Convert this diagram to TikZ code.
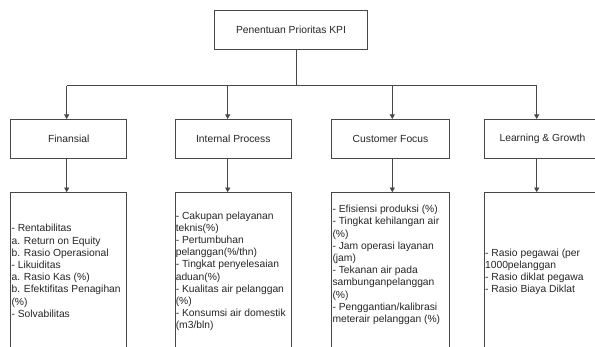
\documentclass[tikz,border=0pt]{standalone}
\usepackage{fontspec}
\setmainfont{Liberation Sans}
\usetikzlibrary{arrows.meta}
\begin{document}
\begin{tikzpicture}[x=1pt,y=-1pt,
  line/.style={draw=black!72, line width=0.75pt},
  arr/.style={line, -{Triangle[length=4.5pt,width=5pt]}},
  box/.style={draw=black!72, line width=0.75pt, fill=white, inner sep=0pt,
    minimum height=39pt, font=\fontsize{10.3}{12.2}\selectfont, text=black!85},
  lowbox/.style={draw=black!72, line width=0.75pt, fill=white, inner sep=0pt,
    minimum height=159.5pt},
  list/.style={inner sep=0pt, anchor=west, align=left,
    font=\fontsize{10.3}{12.2}\selectfont, text=black!85}]
\useasboundingbox (0,0) rectangle (595,347);
\clip (0,0) rectangle (595,347);
\fill[white] (0,0) rectangle (595,347);

% top
\node[box, minimum width=153.4pt, minimum height=39.3pt] (top) at (291,29.7) {Penentuan Prioritas KPI};

% level 2
\node[box, minimum width=116pt]   (fin) at (68.7,138.8)  {Finansial};
\node[box, minimum width=116.7pt] (ip)  at (233.3,138.8) {Internal Process};
\node[box, minimum width=117.6pt] (cf)  at (390.5,138.8) {Customer Focus};
\node[box, minimum width=116.5pt] (lg)  at (542.5,138.8) {Learning \& Growth};

% level 3 boxes
\node[lowbox, minimum width=116pt]   (finb) at (68.7,272.25)  {};
\node[lowbox, minimum width=116.7pt] (ipb)  at (233.3,272.25) {};
\node[lowbox, minimum width=117.6pt] (cfb)  at (390.5,272.25) {};
\node[lowbox, minimum width=116.5pt] (lgb)  at (542.5,272.25) {};

% arrow columns
\coordinate (fa) at ([xshift=-2pt]fin.north);
\coordinate (ia) at ([xshift=-5.6pt]ip.north);
\coordinate (ca) at ([xshift=1.8pt]cf.north);
\coordinate (la) at ([xshift=-5.8pt]lg.north);
\coordinate (fs) at ([xshift=-2pt]fin.south);
\coordinate (is) at ([xshift=-5.6pt]ip.south);
\coordinate (cs) at ([xshift=1.8pt]cf.south);
\coordinate (ls) at ([xshift=-5.8pt]lg.south);

% bus
\coordinate (bus) at (296,85.7);
\draw[line] ([xshift=5pt]top.south) -- (bus);
\draw[line] (bus -| fa) -- (bus -| la);
\draw[arr] (bus -| fa) -- (fa);
\draw[arr] (bus -| ia) -- (ia);
\draw[arr] (bus -| ca) -- (ca);
\draw[arr] (bus -| la) -- (la);

% level 2 -> level 3
\draw[arr] (fs) -- (fs |- finb.north);
\draw[arr] (is) -- (is |- ipb.north);
\draw[arr] (cs) -- (cs |- cfb.north);
\draw[arr] (ls) -- (ls |- lgb.north);

% texts
\node[list] (fint) at ([xshift=1pt]finb.west |- 0,271) {- Rentabilitas\\a. Return on Equity\\b. Rasio Operasional\\- Likuiditas\\a. Rasio Kas (\%)\\b. Efektifitas Penagihan\\(\%)\\- Solvabilitas};
\node[list] (ipt) at ([xshift=1pt]ipb.west |- 0,271.3) {- Cakupan pelayanan\\teknis(\%)\\- Pertumbuhan\\pelanggan(\%/thn)\\- Tingkat penyelesaian\\aduan(\%)\\- Kualitas air pelanggan\\(\%)\\- Konsumsi air domestik\\(m3/bln)};
\node[list] (cft) at ([xshift=1pt]cfb.west |- 0,265) {- Efisiensi produksi (\%)\\- Tingkat kehilangan air\\(\%)\\- Jam operasi layanan\\(jam)\\- Tekanan air pada\\sambunganpelanggan\\(\%)\\- Penggantian/kalibrasi\\meterair pelanggan (\%)};
\node[list] (lgt) at ([xshift=1pt]lgb.west |- 0,271.7) {- Rasio pegawai (per\\1000pelanggan\\- Rasio diklat pegawa\\- Rasio Biaya Diklat};
\end{tikzpicture}
\end{document}
